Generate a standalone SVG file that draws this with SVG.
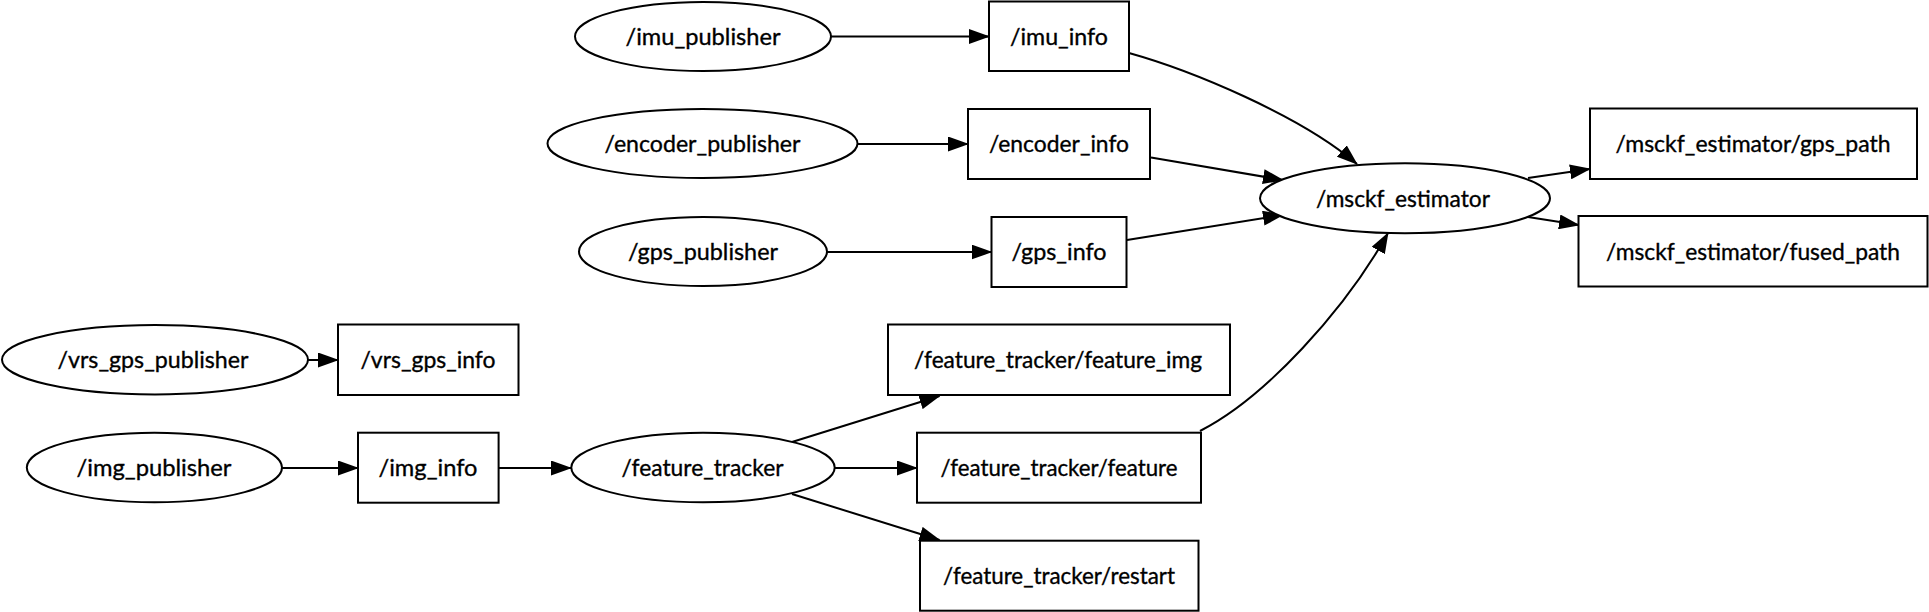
<svg xmlns="http://www.w3.org/2000/svg" width="1929" height="612" viewBox="0 0 1929 612">
<style>
.n{fill:#fff;stroke:#000;stroke-width:2}
.t{font-family:Lato,"Liberation Sans",sans-serif;font-size:24px;fill:#000;stroke:#000;stroke-width:0.35;text-anchor:middle}
.e{fill:none;stroke:#000;stroke-width:2;marker-end:url(#ah)}
</style>
<defs>
<marker id="ah" markerUnits="userSpaceOnUse" markerWidth="21" markerHeight="15" refX="20" refY="7.5" orient="auto">
<path d="M0,0 L21,7.5 L0,15 z" fill="#000"/>
</marker>
</defs>
<rect width="1929" height="612" fill="#fff"/>
<g id="connectors">
<path class="e" d="M831,36.5 L989,36.5"/>
<path class="e" d="M858,144 L968,144"/>
<path class="e" d="M827,252 L991.5,252"/>
<path class="e" d="M1151,157.5 L1283,180"/>
<path class="e" d="M1127,240 L1283,215"/>
<path class="e" d="M1129,53 C1190,70 1300,115 1357,164"/>
<path class="e" d="M1528,178 L1590,169"/>
<path class="e" d="M1528,217 L1579,225"/>
<path class="e" d="M308,360 L338,360"/>
<path class="e" d="M282,468 L358,468"/>
<path class="e" d="M498.6,468 L571,468"/>
<path class="e" d="M792,442 L939.5,396"/>
<path class="e" d="M834.6,468 L917,468"/>
<path class="e" d="M792,494 L939.5,540"/>
<path class="e" d="M1200,431 C1265,398 1345,310 1388,233"/>
</g>
<g id="imu_publisher"><ellipse class="n" cx="703" cy="36.5" rx="128" ry="34.5"/><text class="t" x="703" y="45" textLength="155" lengthAdjust="spacingAndGlyphs">/imu_publisher</text></g>
<g id="imu_info"><rect class="n" x="989" y="1.5" width="140" height="69.5"/><text class="t" x="1059" y="45" textLength="98" lengthAdjust="spacingAndGlyphs">/imu_info</text></g>
<g id="encoder_publisher"><ellipse class="n" cx="702.5" cy="143.5" rx="155" ry="34.5"/><text class="t" x="702.5" y="152" textLength="196" lengthAdjust="spacingAndGlyphs">/encoder_publisher</text></g>
<g id="encoder_info"><rect class="n" x="968" y="109" width="182" height="70"/><text class="t" x="1059" y="152" textLength="140" lengthAdjust="spacingAndGlyphs">/encoder_info</text></g>
<g id="gps_publisher"><ellipse class="n" cx="703" cy="251.5" rx="124" ry="34.5"/><text class="t" x="703" y="260" textLength="150" lengthAdjust="spacingAndGlyphs">/gps_publisher</text></g>
<g id="gps_info"><rect class="n" x="991.5" y="217" width="135" height="70"/><text class="t" x="1059" y="260" textLength="95" lengthAdjust="spacingAndGlyphs">/gps_info</text></g>
<g id="msckf_estimator"><ellipse class="n" cx="1405" cy="198.3" rx="145" ry="35"/><text class="t" x="1403" y="207" textLength="174" lengthAdjust="spacingAndGlyphs">/msckf_estimator</text></g>
<g id="gps_path"><rect class="n" x="1590" y="108.5" width="327" height="70.5"/><text class="t" x="1753" y="152" textLength="275" lengthAdjust="spacingAndGlyphs">/msckf_estimator/gps_path</text></g>
<g id="fused_path"><rect class="n" x="1578.5" y="216" width="349" height="70.5"/><text class="t" x="1753" y="260" textLength="294" lengthAdjust="spacingAndGlyphs">/msckf_estimator/fused_path</text></g>
<g id="vrs_gps_publisher"><ellipse class="n" cx="155" cy="359.7" rx="153" ry="34.7"/><text class="t" x="153" y="368" textLength="191" lengthAdjust="spacingAndGlyphs">/vrs_gps_publisher</text></g>
<g id="vrs_gps_info"><rect class="n" x="338" y="324.5" width="180.5" height="70.5"/><text class="t" x="428" y="368" textLength="135" lengthAdjust="spacingAndGlyphs">/vrs_gps_info</text></g>
<g id="img_publisher"><ellipse class="n" cx="154.4" cy="467.5" rx="127.6" ry="34.8"/><text class="t" x="154" y="476" textLength="155" lengthAdjust="spacingAndGlyphs">/img_publisher</text></g>
<g id="img_info"><rect class="n" x="358" y="432.7" width="140.6" height="70"/><text class="t" x="428" y="476" textLength="99" lengthAdjust="spacingAndGlyphs">/img_info</text></g>
<g id="feature_tracker"><ellipse class="n" cx="703" cy="467.5" rx="131.7" ry="34.8"/><text class="t" x="702.5" y="476" textLength="162" lengthAdjust="spacingAndGlyphs">/feature_tracker</text></g>
<g id="feature_img"><rect class="n" x="888" y="324.5" width="342" height="70.5"/><text class="t" x="1058" y="368" textLength="288" lengthAdjust="spacingAndGlyphs">/feature_tracker/feature_img</text></g>
<g id="feature"><rect class="n" x="917" y="432.7" width="284" height="70"/><text class="t" x="1059" y="476" textLength="237" lengthAdjust="spacingAndGlyphs">/feature_tracker/feature</text></g>
<g id="restart"><rect class="n" x="920" y="540.7" width="278.5" height="70"/><text class="t" x="1059" y="584" textLength="232" lengthAdjust="spacingAndGlyphs">/feature_tracker/restart</text></g>
</svg>
